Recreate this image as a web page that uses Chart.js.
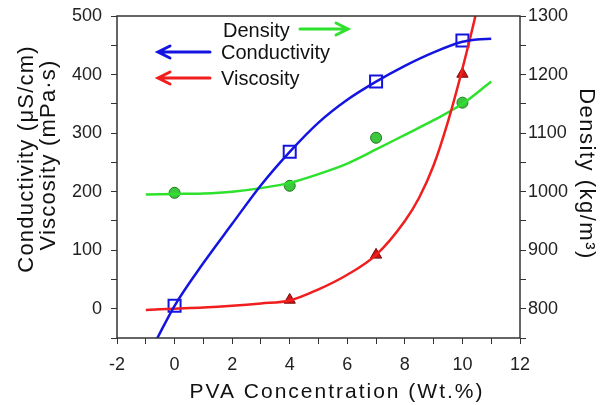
<!DOCTYPE html>
<html>
<head>
<meta charset="utf-8">
<script src="https://cdn.jsdelivr.net/npm/chart.js@4"></script>
<style>
  html, body { margin: 0; padding: 0; background: #fff; }
  #wrap { width: 608px; height: 405px; }
</style>
</head>
<body>
<div id="wrap"><canvas id="myChart" width="608" height="405"></canvas></div>
<script>
'use strict';
// measured points
const pvaX = [0, 4, 7, 10];
const conductivity = [5, 268, 388, 458];
const viscosity = [2, 15, 92, 401];
const density = [998, 1010, 1092, 1152];

// fitted curves
const condFitX = [-0.65, 0, 1, 2, 3, 4, 5, 6, 7, 8, 9, 10, 10.5, 11];
const condFit = [-55, 5, 78, 145, 211, 268, 318, 357, 388, 415, 438, 456, 460, 461];
const viscFitX = [-1, 0, 1, 2, 3, 4, 5, 6, 7, 8, 8.5, 9, 9.5, 10, 10.45, 10.8];
const viscFit = [-2, 0, 2, 5, 9, 14, 33, 58, 92, 150, 190, 245, 320, 410, 500, 580];
const densFitX = [-1, 0, 1, 2, 3, 4, 5, 6, 7, 8, 9, 10, 11];
const densFit = [995, 996, 997, 1000, 1006, 1015, 1030, 1048, 1072, 1097, 1122, 1150, 1188];

const xTicks = [-2, 0, 2, 4, 6, 8, 10, 12];

const BLUE = 'rgb(20,20,225)';
const RED = 'rgb(240,30,30)';
const GREEN = 'rgb(45,225,45)';
const FONT = 'Liberation Sans, Arial, sans-serif';

function pts(xs, ys) {
  return xs.map((x, i) => ({ x: x, y: ys[i] }));
}

// frame, axis titles and the arrow legend
const extras = {
  id: 'extras',
  afterDraw(chart) {
    const ctx = chart.ctx;
    const a = chart.chartArea;
    ctx.save();
    ctx.strokeStyle = '#333';
    ctx.lineWidth = 1.5;
    ctx.strokeRect(a.left, a.top, a.right - a.left, a.bottom - a.top);

    ctx.fillStyle = '#111';
    ctx.textAlign = 'center';
    ctx.textBaseline = 'alphabetic';
    ctx.font = '21px ' + FONT;
    ctx.letterSpacing = '2px';
    ctx.fillText('PVA Concentration (Wt.%)', 337, 398);

    ctx.font = '22px ' + FONT;
    ctx.letterSpacing = '1.2px';
    ctx.save();
    ctx.translate(33, 159);
    ctx.rotate(-Math.PI / 2);
    ctx.fillText('Conductivity (\u03bcS/cm)', 0, 0);
    ctx.restore();
    ctx.save();
    ctx.translate(55, 155);
    ctx.rotate(-Math.PI / 2);
    ctx.fillText('Viscosity (mPa\u00b7s)', 0, 0);
    ctx.restore();

    ctx.letterSpacing = '1.5px';
    ctx.save();
    ctx.translate(580, 174);
    ctx.rotate(Math.PI / 2);
    ctx.fillText('Density (kg/m\u00b3)', 0, 0);
    ctx.restore();

    ctx.letterSpacing = '0px';
    ctx.textAlign = 'left';
    ctx.font = '20px ' + FONT;
    ctx.textBaseline = 'middle';
    ctx.fillText('Density', 223, 31);
    ctx.fillText('Conductivity', 221, 53);
    ctx.fillText('Viscosity', 221, 79);

    arrow(ctx, 300, 348, 29, GREEN);
    arrow(ctx, 210, 158, 52, BLUE);
    arrow(ctx, 210, 158, 78, RED);
    ctx.restore();
  }
};

function arrow(ctx, x1, x2, y, color) {
  const dir = x2 > x1 ? 1 : -1;
  ctx.strokeStyle = color;
  ctx.lineWidth = 3;
  ctx.lineCap = 'round';
  ctx.beginPath();
  ctx.moveTo(x1, y);
  ctx.lineTo(x2, y);
  ctx.moveTo(x2 - dir * 12, y - 6);
  ctx.lineTo(x2, y);
  ctx.lineTo(x2 - dir * 12, y + 6);
  ctx.stroke();
}

function fixWidth(w) {
  return s => { s.width = w; s.paddingTop = 0; s.paddingBottom = 0; };
}

const ctx = document.getElementById('myChart').getContext('2d');
const chart = new Chart(ctx, {
  type: 'line',
  data: {
    datasets: [
      {
        label: 'Conductivity fit',
        data: pts(condFitX, condFit),
        borderColor: BLUE, borderWidth: 2.5, pointRadius: 0,
        cubicInterpolationMode: 'monotone', yAxisID: 'y'
      },
      {
        label: 'Viscosity fit',
        data: pts(viscFitX, viscFit),
        borderColor: RED, borderWidth: 2.5, pointRadius: 0,
        cubicInterpolationMode: 'monotone', yAxisID: 'y'
      },
      {
        label: 'Density fit',
        data: pts(densFitX, densFit),
        borderColor: GREEN, borderWidth: 2.5, pointRadius: 0,
        cubicInterpolationMode: 'monotone', yAxisID: 'y2'
      },
      {
        label: 'Conductivity',
        data: pts(pvaX, conductivity),
        showLine: false, pointStyle: 'rect', pointRadius: 8.5,
        pointBorderColor: BLUE, pointBackgroundColor: '#fff', pointBorderWidth: 2,
        yAxisID: 'y'
      },
      {
        label: 'Viscosity',
        data: pts(pvaX, viscosity),
        showLine: false, pointStyle: 'triangle', pointRadius: 6.5,
        pointBorderColor: 'rgb(120,10,10)', pointBackgroundColor: 'rgb(210,20,20)', pointBorderWidth: 1,
        yAxisID: 'y'
      },
      {
        label: 'Density',
        data: pts(pvaX, density),
        showLine: false, pointStyle: 'circle', pointRadius: 5.5,
        pointBorderColor: 'rgb(30,120,30)', pointBackgroundColor: 'rgb(60,200,60)', pointBorderWidth: 1,
        yAxisID: 'y2'
      }
    ]
  },
  plugins: [extras],
  options: {
    responsive: false,
    animation: false,
    layout: { padding: { top: 16, left: 0, right: 0, bottom: 0 } },
    plugins: { legend: { display: false }, tooltip: { enabled: false } },
    scales: {
      x: {
        type: 'linear', min: -2, max: 12,
        afterFit: s => { s.height = 67; s.paddingLeft = 0; s.paddingRight = 0; },
        afterBuildTicks: s => { s.ticks = [];
          for (let v = -2; v <= 12; v++) s.ticks.push({ value: v }); },
        grid: { drawOnChartArea: false, drawTicks: true, tickLength: 6, color: '#333' },
        border: { display: false },
        ticks: {
          color: '#222', font: { family: FONT, size: 18 }, padding: 10, maxRotation: 0,
          autoSkip: false,
          callback: v => xTicks.includes(v) ? String(v) : ''
        }
      },
      y: {
        type: 'linear', position: 'left', min: -50, max: 500,
        afterFit: fixWidth(117),
        afterBuildTicks: s => { s.ticks = [];
          for (let v = -50; v <= 500; v += 50) s.ticks.push({ value: v }); },
        grid: { drawOnChartArea: false, drawTicks: true, tickLength: 6, color: '#333' },
        border: { display: false },
        ticks: {
          color: '#222', font: { family: FONT, size: 18 }, padding: 9, autoSkip: false,
          callback: v => (v % 100 === 0) ? String(v) : ''
        }
      },
      y2: {
        type: 'linear', position: 'right', min: 750, max: 1300,
        afterFit: fixWidth(88),
        afterBuildTicks: s => { s.ticks = [];
          for (let v = 750; v <= 1300; v += 50) s.ticks.push({ value: v }); },
        grid: { drawOnChartArea: false, drawTicks: true, tickLength: 6, color: '#333' },
        border: { display: false },
        ticks: {
          color: '#222', font: { family: FONT, size: 18 }, padding: 2, autoSkip: false,
          callback: v => (v % 100 === 0) ? String(v) : ''
        }
      }
    }
  }
});
</script>
</body>
</html>
